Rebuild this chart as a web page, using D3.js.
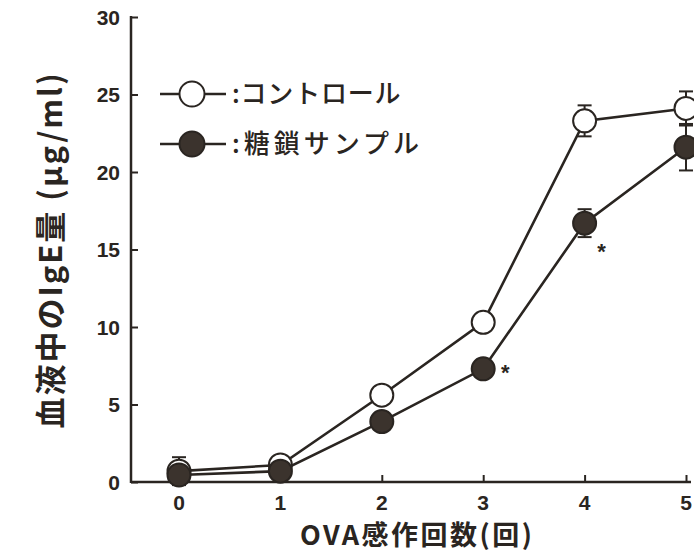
<!DOCTYPE html>
<html>
<head>
<meta charset="utf-8">
<script src="https://cdn.jsdelivr.net/npm/d3@7"></script>
<style>
  body { margin: 0; background: #fff; }
  svg { display: block; }
</style>
</head>
<body>
<div id="chart"></div>
<script>
// data
const sessions = [0, 1, 2, 3, 4, 5];
const controlMean = [0.7, 1.1, 5.6, 10.3, 23.3, 24.1];
const controlErr  = [0.9, 0.2, 0.5, 0.2, 1.0, 1.1];
const sampleMean  = [0.45, 0.7, 3.9, 7.3, 16.7, 21.6];
const sampleErr   = [0.2, 0.2, 0.2, 0.2, 0.9, 1.5];
const starAt = [3, 4];
const yTicks = [0, 5, 10, 15, 20, 25, 30];
const legendLabels = [":コントロール", ":糖鎖サンプル"];

const width = 694, height = 555;
const ink = "#2a2521", fillDark = "#3b332d";
const svg = d3.select("#chart").append("svg")
    .attr("width", width).attr("height", height);

const x = d3.scaleLinear().domain([0, 5]).range([179, 686]);
const y = d3.scaleLinear().domain([0, 30]).range([482, 17]);
const x0 = 131;

// axes (ticks drawn inward)
svg.append("g")
    .attr("transform", `translate(${x0},0)`)
    .call(d3.axisRight(y).tickValues(yTicks).tickSize(7).tickFormat(""))
    .call(g => g.select(".domain").remove())
    .call(g => g.selectAll("line").attr("stroke", ink).attr("stroke-width", 2));
svg.append("line")
    .attr("x1", x0).attr("x2", x0).attr("y1", y(30) - 1).attr("y2", y(0) + 1)
    .attr("stroke", ink).attr("stroke-width", 2.5);
svg.append("g")
    .attr("transform", `translate(0,${y(0)})`)
    .call(d3.axisTop(x).tickValues(sessions).tickSize(7).tickFormat(""))
    .call(g => g.select(".domain").remove())
    .call(g => g.selectAll("line").attr("stroke", ink).attr("stroke-width", 2));
svg.append("line")
    .attr("x1", x0).attr("x2", 691).attr("y1", y(0)).attr("y2", y(0))
    .attr("stroke", ink).attr("stroke-width", 2.5);

// tick labels
svg.selectAll(".ylab").data(yTicks).enter().append("text")
    .attr("x", x0 - 11).attr("y", d => y(d)).attr("dy", "0.36em")
    .attr("text-anchor", "end")
    .style("font-family", "Liberation Sans, Arial, sans-serif")
    .style("font-weight", "bold").style("font-size", "21px").style("fill", ink)
    .text(d => d);
svg.selectAll(".xlab").data(sessions).enter().append("text")
    .attr("x", d => x(d)).attr("y", y(0) + 28)
    .attr("text-anchor", "middle")
    .style("font-family", "Liberation Sans, Arial, sans-serif")
    .style("font-weight", "bold").style("font-size", "21px").style("fill", ink)
    .text(d => d);

// axis titles
svg.append("text")
    .attr("transform", `translate(62,250) rotate(-90)`)
    .attr("text-anchor", "middle")
    .style("font-family", "Noto Sans CJK JP, sans-serif")
    .style("font-weight", "bold").style("font-size", "31px")
    .style("letter-spacing", "2px").style("fill", ink)
    .text("血液中のIgE量 (μg/ml)");
svg.append("text")
    .attr("x", 300).attr("y", 545)
    .attr("text-anchor", "start")
    .style("font-family", "Noto Sans CJK JP, sans-serif")
    .style("font-weight", "bold").style("font-size", "27px")
    .style("letter-spacing", "2.5px").style("fill", ink)
    .text("OVA感作回数(回)");

// series
const series = [
  { mean: controlMean, err: controlErr, fill: "#fff" },
  { mean: sampleMean, err: sampleErr, fill: fillDark }
];
const line = d3.line().x((d, i) => x(sessions[i])).y(d => y(d));

series.forEach(s => {
  svg.append("path").datum(s.mean)
      .attr("d", line).attr("fill", "none")
      .attr("stroke", ink).attr("stroke-width", 2.6);
});

series.forEach(s => {
  const g = svg.append("g");
  s.mean.forEach((m, i) => {
    const cx = x(sessions[i]);
    const top = y(m + s.err[i]), bot = y(m - s.err[i]);
    g.append("line").attr("x1", cx).attr("x2", cx).attr("y1", top).attr("y2", bot)
        .attr("stroke", ink).attr("stroke-width", 2);
    [top, bot].forEach(cy => g.append("line")
        .attr("x1", cx - 7).attr("x2", cx + 7).attr("y1", cy).attr("y2", cy)
        .attr("stroke", ink).attr("stroke-width", 2));
  });
  g.selectAll("circle").data(s.mean).enter().append("circle")
      .attr("cx", (d, i) => x(sessions[i])).attr("cy", d => y(d))
      .attr("r", 11.5)
      .attr("fill", s.fill).attr("stroke", ink).attr("stroke-width", 2);
});

// significance marks (the one at 4 sits lower, below the error bar)
svg.selectAll(".star").data(starAt).enter().append("text")
    .attr("x", d => x(d) + (d === 4 ? 17 : 22))
    .attr("y", d => y(sampleMean[d]) + (d === 4 ? 36 : 11))
    .attr("text-anchor", "middle")
    .style("font-family", "Liberation Sans, Arial, sans-serif")
    .style("font-weight", "bold").style("font-size", "22px").style("fill", ink)
    .text("*");

// legend
const legend = svg.append("g");
legendLabels.forEach((lab, i) => {
  const ly = 94 + i * 50;
  legend.append("line").attr("x1", 160).attr("x2", 226).attr("y1", ly).attr("y2", ly)
      .attr("stroke", ink).attr("stroke-width", 2.5);
  legend.append("circle").attr("cx", 192).attr("cy", ly).attr("r", 12.5)
      .attr("fill", series[i].fill).attr("stroke", ink).attr("stroke-width", 2);
  legend.append("text").attr("x", 232).attr("y", ly).attr("dy", "0.36em")
      .style("font-family", "Noto Sans CJK JP, sans-serif")
      .style("font-weight", "500").style("font-size", "26px")
      .style("letter-spacing", i === 0 ? "0.8px" : "4px").style("fill", ink)
      .text(lab);
});
</script>
</body>
</html>
